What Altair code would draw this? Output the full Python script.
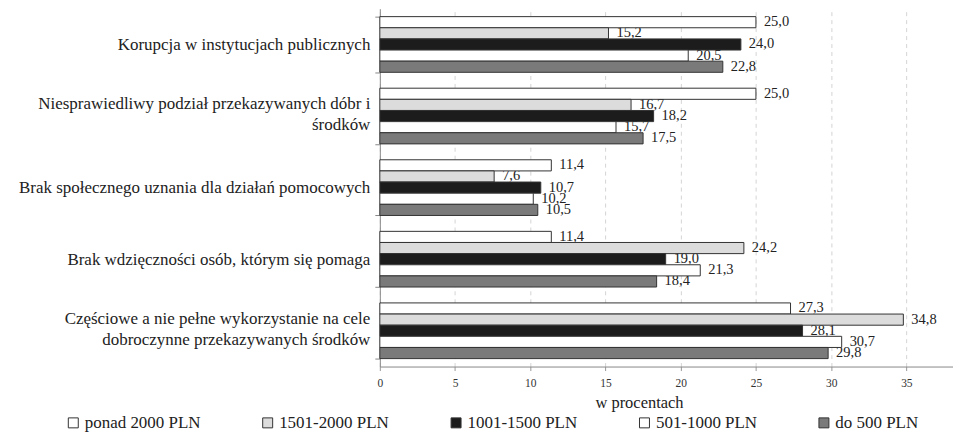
import altair as alt
import pandas as pd

NBSP = "\u00a0"

# Categories (top to bottom); "|" marks a line break in the axis label
categories = [
    "Korupcja w instytucjach publicznych",
    "Niesprawiedliwy podział przekazywanych dóbr i|środków" + NBSP * 37,
    "Brak społecznego uznania dla działań pomocowych",
    "Brak wdzięczności osób, którym się pomaga",
    "Częściowe a nie pełne wykorzystanie na cele|dobroczynne przekazywanych środków" + NBSP * 2,
]

series = ["ponad 2000 PLN", "1501-2000 PLN", "1001-1500 PLN", "501-1000 PLN", "do 500 PLN"]

ponad_2000 = [25.0, 25.0, 11.4, 11.4, 27.3]
od_1501_do_2000 = [15.2, 16.7, 7.6, 24.2, 34.8]
od_1001_do_1500 = [24.0, 18.2, 10.7, 19.0, 28.1]
od_501_do_1000 = [20.5, 15.7, 10.2, 21.3, 30.7]
do_500 = [22.8, 17.5, 10.5, 18.4, 29.8]

values = [ponad_2000, od_1501_do_2000, od_1001_do_1500, od_501_do_1000, do_500]
colors = ["#ffffff", "#dcdcdc", "#1c1c1c", "#ffffff", "#7a7a7a"]
x_ticks = [0, 5, 10, 15, 20, 25, 30, 35]

rows = []
for s, vals in zip(series, values):
    for c, v in zip(categories, vals):
        rows.append({"category": c, "series": s, "value": v})
df = pd.DataFrame(rows)

FONT = "Liberation Serif"

base = alt.Chart(df).encode(
    y=alt.Y(
        "category:N",
        sort=categories,
        scale=alt.Scale(paddingInner=0.222, paddingOuter=0.111),
        axis=alt.Axis(
            title=None,
            labelExpr="split(datum.label, '|')",
            labelFont=FONT,
            labelFontSize=17,
            labelColor="#222222",
            labelLimit=0,
            labelPadding=5,
            labelLineHeight=21,
            labelAlign="right",
            labelBaseline="middle",
            labelOffset={
                "condition": {"test": "indexof(datum.label, '|') >= 0", "value": -12.5},
                "value": 0,
            },
            tickBand="extent",
            tickSize=5,
            tickColor="#888888",
            domainColor="#888888",
            grid=False,
        ),
    ),
    yOffset=alt.YOffset(
        "series:N", sort=series, scale=alt.Scale(paddingInner=0, paddingOuter=0)
    ),
    x=alt.X(
        "value:Q",
        scale=alt.Scale(domain=[0, 38.1], nice=False, zero=True),
        axis=alt.Axis(
            values=x_ticks,
            format="d",
            title="w procentach",
            grid=True,
            gridDash=[4, 4],
            gridColor="#d4d4d4",
            gridWidth=1,
            domainColor="#888888",
            tickColor="#999999",
            tickSize=4,
            labelFont=FONT,
            labelFontSize=11.5,
            labelColor="#333333",
            labelPadding=7,
            labelFlush=False,
            titleFont=FONT,
            titleFontSize=16.5,
            titleFontWeight="normal",
            titleColor="#222222",
            titleX=260,
            titleAlign="center",
            titlePadding=6,
        ),
    ),
)

labels = base.transform_calculate(
    label="replace(format(datum.value, '.1f'), '.', ',')"
).mark_text(
    align="left", baseline="middle", dx=8, font=FONT, fontSize=14.5, color="#222222"
).encode(text="label:N")

bars = base.mark_bar(stroke="#333333", strokeWidth=1).encode(
    color=alt.Color(
        "series:N",
        sort=series,
        scale=alt.Scale(domain=series, range=colors),
        legend=alt.Legend(
            title=None,
            orient="none",
            legendX=-316,
            legendY=407,
            direction="horizontal",
            columns=5,
            gridAlign="none",
            columnPadding=58,
            symbolType="square",
            symbolSize=100,
            symbolStrokeColor="#333333",
            symbolStrokeWidth=1,
            labelFont=FONT,
            labelFontSize=17,
            labelColor="#222222",
            labelOffset=3,
            labelLimit=0,
        ),
    )
)

chart = (
    alt.layer(labels, bars)
    .properties(
        width=575,
        height=359,
        autosize=alt.AutoSizeParams(type="none"),
        padding={"left": 373, "top": 0, "right": 0, "bottom": 72},
    )
    .configure(font=FONT)
    .configure_view(strokeWidth=0)
)

chart.save("out.html", embed_options={"renderer": "svg", "actions": False})
